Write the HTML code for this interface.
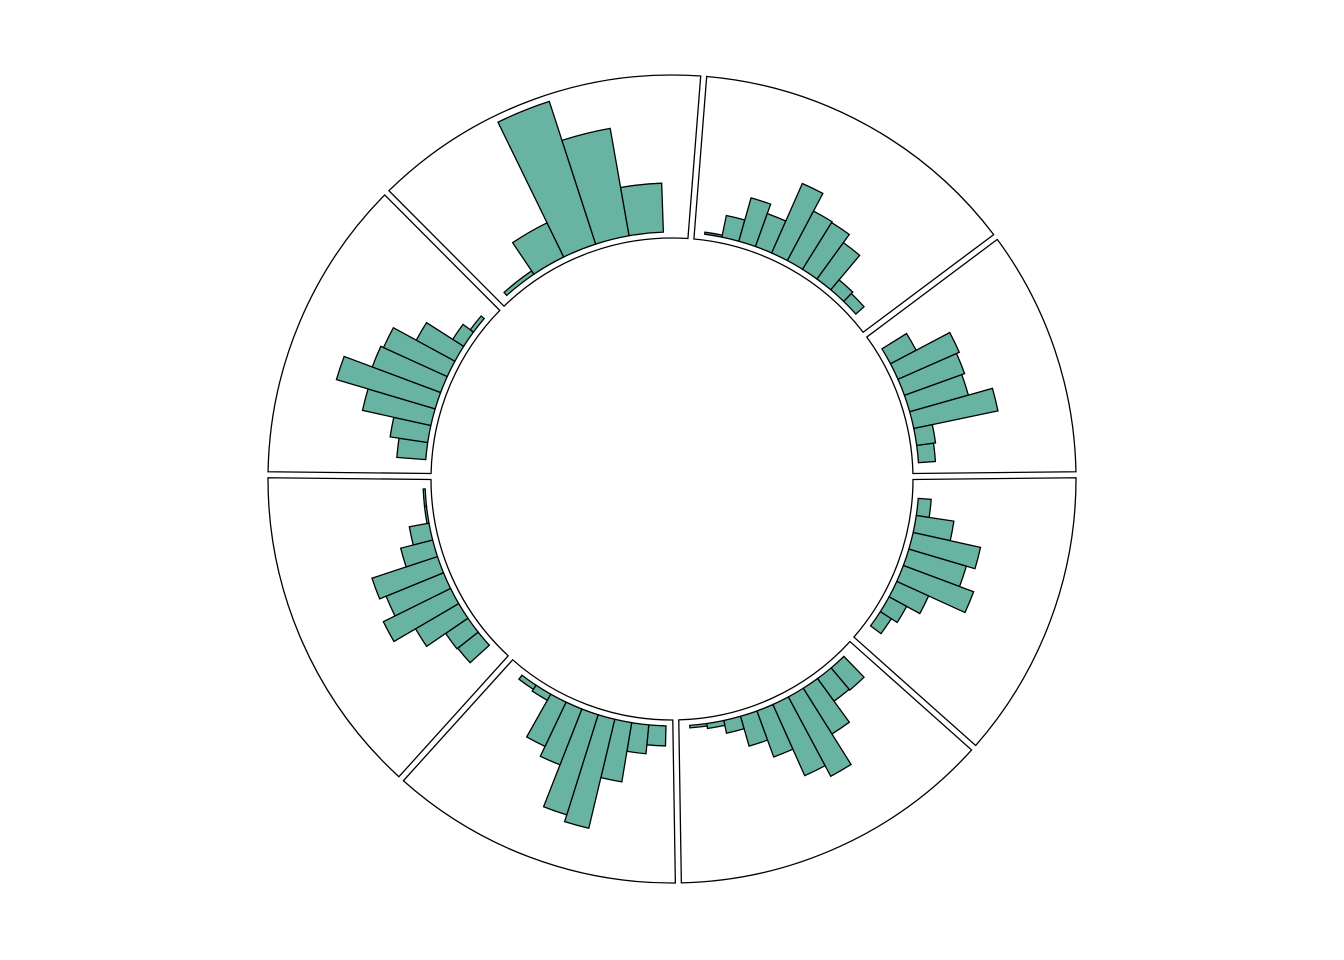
<!DOCTYPE html>
<html><head><meta charset="utf-8"><style>
html,body{margin:0;padding:0;background:#fff;}
svg{display:block;}
</style></head><body>
<svg id="chart" width="1344" height="960" viewBox="0 0 1344 960" xmlns="http://www.w3.org/2000/svg">
<g id="panels"></g>
<g id="bars"></g>
</svg>
<script>
// panel boundaries (degrees clockwise from north)
const panelBounds = [4.5, 53.2, 89.4, 131.7, 179.1, 222.1, 270.6, 315.1];
// per-panel first bin start angle and bin width (degrees)
const binStarts = [7.6, 58.2, 94.5, 135.9, 181.4, 227.7, 274.5, -42];
const binWidths = [4.05, 4, 4, 4, 4, 4, 4, 8];
// per-panel bar values (counts)
const valuesP1 = [2, 22, 45, 35, 76, 56, 55, 45, 13, 11];
const valuesP2 = [29, 67, 64, 61, 86, 19, 17];
const valuesP3 = [13, 38, 69, 60, 75, 35, 20, 13];
const valuesP4 = [29, 28, 54, 90, 78, 49, 31, 13, 5, 2.5];
const valuesP5 = [20, 29, 60, 112, 105, 60, 49, 7, 5];
const valuesP6 = [26, 27, 50, 75, 62, 69, 33, 20, 2, 2];
const valuesP7 = [29, 38, 70, 103, 73, 70, 44, 13, 4];
const valuesP8 = [4, 38, 150, 109, 49];
const allValues = [valuesP1, valuesP2, valuesP3, valuesP4, valuesP5, valuesP6, valuesP7, valuesP8];

const CX = 672, CY = 479, R_IN = 241, R_OUT = 404, R_BASE = 247, GAP = 3;
function rScale(v){ return R_BASE + v * 1.0; }
function pt(angDeg, r){ const a = angDeg*Math.PI/180; return [CX + r*Math.sin(a), CY - r*Math.cos(a)]; }
function f(p){ return p[0].toFixed(2)+','+p[1].toFixed(2); }
function sector(a0, a1, r0, r1){
  const large = (a1 - a0) > 180 ? 1 : 0;
  const p1 = pt(a0, r0), p2 = pt(a0, r1), p3 = pt(a1, r1), p4 = pt(a1, r0);
  return 'M'+f(p1)+' L'+f(p2)+' A'+r1+','+r1+' 0 '+large+' 1 '+f(p3)+' L'+f(p4)+' A'+r0+','+r0+' 0 '+large+' 0 '+f(p1)+' Z';
}
const NS = 'http://www.w3.org/2000/svg';
const gP = document.getElementById('panels');
for (let i = 0; i < panelBounds.length; i++){
  const a0 = panelBounds[i];
  let a1 = panelBounds[(i+1) % panelBounds.length];
  if (a1 < a0) a1 += 360;
  const di = Math.asin(GAP/R_IN)*180/Math.PI, dOut = Math.asin(GAP/R_OUT)*180/Math.PI;
  const p1 = pt(a0+di, R_IN), p2 = pt(a0+dOut, R_OUT), p3 = pt(a1-dOut, R_OUT), p4 = pt(a1-di, R_IN);
  const d = 'M'+f(p1)+' L'+f(p2)+' A'+R_OUT+','+R_OUT+' 0 0 1 '+f(p3)+' L'+f(p4)+' A'+R_IN+','+R_IN+' 0 0 0 '+f(p1)+' Z';
  const path = document.createElementNS(NS, 'path');
  path.setAttribute('d', d);
  path.setAttribute('fill', 'none');
  path.setAttribute('stroke', '#000');
  path.setAttribute('stroke-width', '1.3');
  
  
  gP.appendChild(path);
}
const gB = document.getElementById('bars');
allValues.forEach((vals, p) => {
  vals.forEach((v, j) => {
    const a0 = binStarts[p] + j*binWidths[p];
    const a1 = a0 + binWidths[p];
    const path = document.createElementNS(NS, 'path');
    path.setAttribute('d', sector(a0, a1, R_BASE, rScale(v)));
    path.setAttribute('fill', '#69b3a2');
    path.setAttribute('stroke', '#000');
    path.setAttribute('stroke-width', '1.3');
    
    
    gB.appendChild(path);
  });
});
</script>
</body></html>
